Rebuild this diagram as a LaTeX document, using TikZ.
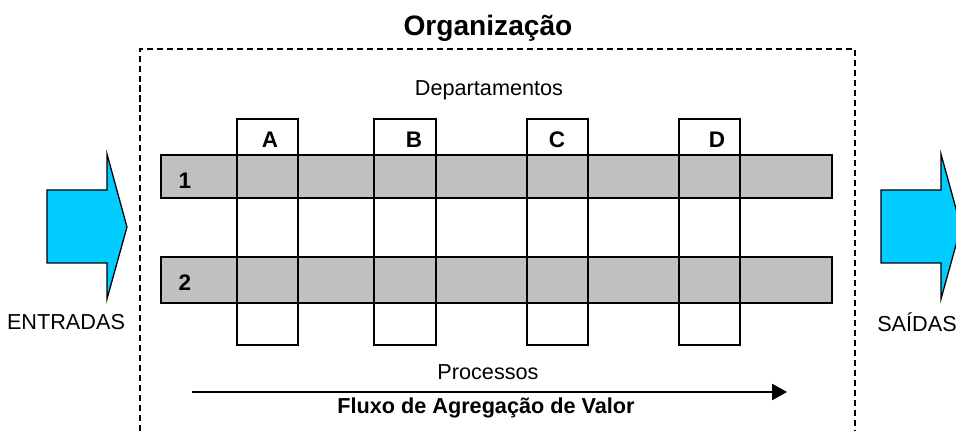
\documentclass[tikz,border=0pt]{standalone}
\usepackage{fontspec}
\setmainfont{Liberation Sans}
\usepackage{tikz}
\usetikzlibrary{arrows.meta,calc,positioning}
\definecolor{cinza}{HTML}{C0C0C0}
\definecolor{ciano}{HTML}{00CCFF}
\tikzset{
	texto/.style={draw=none,fill=none,inner sep=0pt,font=\fontsize{15.4}{18}\selectfont},
	negrito/.style={draw=none,fill=none,inner sep=0pt,font=\fontsize{16}{19}\selectfont\bfseries},
	processo/.style={draw=black,line width=0.9pt,fill=cinza},
	depto/.style={draw=black,line width=0.9pt},
	seta/.style={draw=black,line width=0.9pt,fill=ciano}
}
\begin{document}
\begin{tikzpicture}[x=0.025cm,y=-0.025cm]
		\useasboundingbox (0,0) rectangle (956,431);
		
		% organizacao
		\draw[black,line width=1.6pt,dash pattern=on 4.3pt off 2.8pt] (140,431)--(140,49)--(855,49)--(855,431);
		\node (org) at (488,28) [draw=none,fill=none,inner sep=0pt,font=\fontsize{20}{24}\selectfont\bfseries] {Organização};
		\node[texto] (deptos) at (489,90) {Departamentos};
		
		% processos
		\draw[processo] (161,155) rectangle (832,198);
		\draw[processo] (161,257) rectangle (832,303);
		\node[negrito] (rot1) at (185,181) {1};
		\node[negrito] (rot2) at (185,283) {2};
		
		% departamentos
		\draw[depto] (237,119) rectangle (298,345);
		\draw[depto] (374,119) rectangle (436,345);
		\draw[depto] (527,119) rectangle (588,345);
		\draw[depto] (679,119) rectangle (740,345);
		\node[negrito] (colA) at (270,140) {A};
		\node[negrito] (colB) at (414,140) {B};
		\node[negrito] (colC) at (557,140) {C};
		\node[negrito] (colD) at (717,140) {D};
		
		% fluxo
		\node[texto] (procs) at (488,372) {Processos};
		\coordinate (fluxoini) at (192,392);
		\coordinate (fluxofim) at (787,392);
		\draw[-{Triangle[length=10.5pt,width=11.5pt]},line width=0.9pt] (fluxoini)--(fluxofim);
		\node[texto,font=\fontsize{15.4}{18}\selectfont\bfseries] (fluxo) at (486,408) {Fluxo de Agregação de Valor};
		
		% entradas e saidas
		\draw[seta] (47,190)--(107,190)--(107,154)--(127,227)--(107,299)--(107,263)--(47,263)--cycle;
		\node[texto] (entradas) at (66,322) {ENTRADAS};
		\draw[seta] (881,190)--(941,190)--(941,154)--(961,227)--(941,299)--(941,263)--(881,263)--cycle;
		\node[texto] (saidas) at (917,322) {SAÍDAS};
\end{tikzpicture}
\end{document}
